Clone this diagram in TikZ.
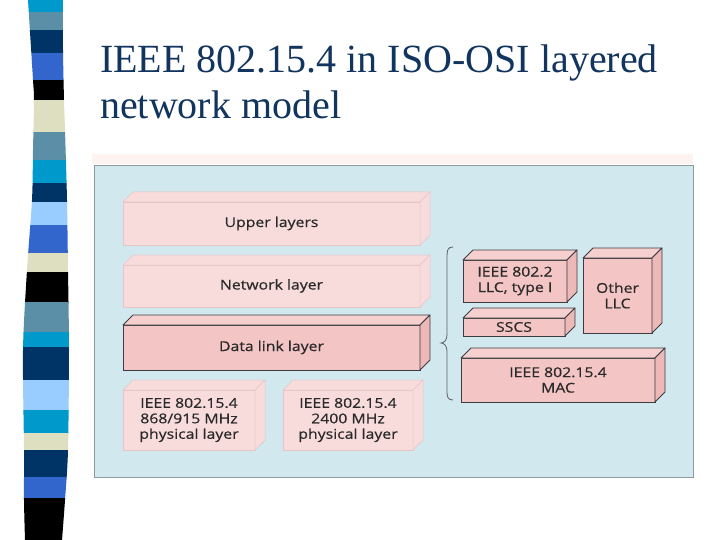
\documentclass[tikz,border=0pt]{standalone}
\usepackage{fontspec}
\setmainfont{Liberation Serif}
\newfontfamily\diagfont[FakeStretch=1.17,FakeBold=0.6]{Open Sans}
\definecolor{titleblue}{HTML}{12355F}
\definecolor{scyan}{HTML}{0099CC}
\definecolor{ssteel}{HTML}{5B8FA8}
\definecolor{snavy}{HTML}{003366}
\definecolor{sroyal}{HTML}{3366CC}
\definecolor{sbeige}{HTML}{DEDEC0}
\definecolor{slight}{HTML}{99CCFF}
\definecolor{panelblue}{HTML}{D2E8EF}
\definecolor{paneledge}{HTML}{8C9BA0}
\definecolor{strippink}{HTML}{FDF4F2}
\definecolor{pinkfront}{HTML}{F3C5C4}
\definecolor{pinktop}{HTML}{F6D0CF}
\definecolor{pinkside}{HTML}{EDB9B8}
\definecolor{palepink}{HTML}{F8DCDB}
\definecolor{paleedge}{HTML}{E6C5C5}
\definecolor{boxline}{HTML}{3C3C40}
\definecolor{txt}{HTML}{2A2A2A}
\newcommand\cubefaces[3]{%
  \filldraw[#2] (#1.north west) -- ([shift={(10,-10)}]#1.north west) -- ([shift={(10,-10)}]#1.north east) -- (#1.north east) -- cycle;
  \filldraw[#3] (#1.north east) -- ([shift={(10,-10)}]#1.north east) -- ([shift={(10,-10)}]#1.south east) -- (#1.south east) -- cycle;}
\begin{document}
\begin{tikzpicture}[x=1pt,y=-1pt,
  boxtext/.style={inner sep=0pt, outer sep=0pt, align=center, text=txt,
    font=\diagfont\fontsize{13.5}{15.5}\selectfont},
  solidbox/.style={boxtext, draw=boxline, line width=0.8pt, fill=pinkfront},
  palebox/.style={boxtext, draw=paleedge, line width=0.5pt, fill=palepink},
  soltop/.style={draw=boxline, line width=0.8pt, fill=pinktop, line join=round},
  solside/.style={draw=boxline, line width=0.8pt, fill=pinkside, line join=round},
  paleface/.style={draw=paleedge, line width=0.5pt, fill=palepink, line join=round}]
\useasboundingbox (0,0) rectangle (720,540);
\fill[white] (0,0) rectangle (720,540);
% striped band
\begin{scope}
\clip plot[smooth] coordinates {(28,0) (33,80) (34,100) (33,150) (32,200) (27,270) (23,350) (24,450) (24,500) (25,540)}
  -- plot[smooth] coordinates {(62,540) (65,500) (68,450) (69,350) (68,270) (67,200) (65,130) (64,100) (63,50) (63,0)} -- cycle;
\foreach \ya/\yb/\c in {0/12/scyan, 12/30/ssteel, 30/53/snavy, 53/80/sroyal, 80/100/black,
  100/132/sbeige, 132/160/ssteel, 160/183/scyan, 183/202/snavy, 202/225/slight,
  225/253/sroyal, 253/272/sbeige, 272/302/black, 302/332/ssteel, 332/347/scyan,
  347/380/snavy, 380/410/slight, 410/433/scyan, 433/450/sbeige, 450/477/snavy,
  477/498/sroyal, 498/540/black}
  \fill[\c] (0,\ya) rectangle (80,\yb+0.5);
\end{scope}
% title
\node[anchor=base west, inner sep=0pt, text=titleblue, font=\fontsize{40}{46}\selectfont] (title1) at (100,73) {IEEE 802.15.4 in ISO-OSI layered};
\node[anchor=base west, inner sep=0pt, text=titleblue, font=\fontsize{40}{46}\selectfont] (title2) at (100,119) {network model};
% panel
\fill[strippink] (92,154) rectangle (693,164);
\filldraw[fill=panelblue, draw=paneledge, line width=0.7pt] (94,165) rectangle (693,477);
% left stack
\node[palebox, minimum width=297pt, minimum height=43pt] (upper) at (271.5,223.5) {Upper layers};
\cubefaces{upper}{paleface}{paleface}
\node[palebox, minimum width=297pt, minimum height=42pt] (net) at (271.5,286) {Network layer};
\cubefaces{net}{paleface}{paleface}
\node[solidbox, minimum width=297pt, minimum height=45pt] (dl) at (271.5,347.5) {Data link layer};
\cubefaces{dl}{soltop}{solside}
\node[palebox, minimum width=132pt, minimum height=60pt] (phy1) at (189,420) {IEEE 802.15.4\\868/915 MHz\\physical layer};
\cubefaces{phy1}{paleface}{paleface}
\node[palebox, minimum width=130pt, minimum height=60pt] (phy2) at (348,420) {IEEE 802.15.4\\2400 MHz\\physical layer};
\cubefaces{phy2}{paleface}{paleface}
% brace
\draw[draw=boxline!80!panelblue, line width=0.8pt] (453,247) .. controls (448,247) and (447,250) .. (447,256) -- (447,335)
  .. controls (447,340) and (444,343) .. (441,343) .. controls (444,343) and (447,346) .. (447,351) -- (447,392)
  .. controls (447,397) and (448,400) .. (453,400);
% right stack
\node[solidbox, minimum width=104pt, minimum height=42pt] (llc) at (515,281) {IEEE 802.2\\LLC, type I};
\cubefaces{llc}{soltop}{solside}
\node[solidbox, minimum width=69pt, minimum height=75pt] (other) at (617.5,295.5) {\raisebox{-4pt}{Other}\\\raisebox{-4pt}{LLC}};
\cubefaces{other}{soltop}{solside}
\node[solidbox, minimum width=102pt, minimum height=18pt] (sscs) at (514,327) {SSCS};
\cubefaces{sscs}{soltop}{solside}
\node[solidbox, minimum width=194pt, minimum height=44pt] (mac) at (558,380) {IEEE 802.15.4\\MAC};
\cubefaces{mac}{soltop}{solside}
\end{tikzpicture}
\end{document}
